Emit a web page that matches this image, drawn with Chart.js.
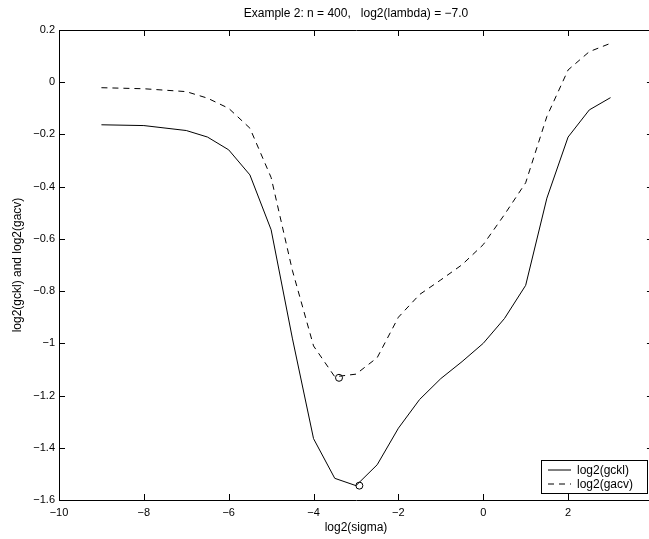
<!DOCTYPE html>
<html>
<head>
<meta charset="utf-8">
<script src="https://cdn.jsdelivr.net/npm/chart.js@4/dist/chart.umd.min.js"></script>
<style>
  html, body { margin: 0; padding: 0; background: #fff; overflow: hidden; }
  #wrap { width: 662px; height: 539px; }
</style>
</head>
<body>
<div id="wrap"><canvas id="c" width="662" height="539"></canvas></div>
<script>
// log2(sigma) grid and the two criteria curves
const sigmaLog = [-9, -8, -7, -6.5, -6, -5.5, -5, -4.5, -4, -3.5, -3, -2.5, -2, -1.5, -1, -0.5, 0, 0.5, 1, 1.5, 2, 2.5, 3];
const gckl = [-0.163, -0.166, -0.185, -0.210, -0.259, -0.355, -0.565, -0.98, -1.365, -1.517, -1.545, -1.465, -1.325, -1.215, -1.135, -1.07, -1.0, -0.905, -0.778, -0.444, -0.210, -0.106, -0.059];
const gacv = [-0.021, -0.025, -0.036, -0.061, -0.100, -0.176, -0.365, -0.72, -1.01, -1.128, -1.118, -1.055, -0.90, -0.813, -0.757, -0.699, -0.622, -0.507, -0.385, -0.131, 0.047, 0.117, 0.149];

// minima marked with 'o'
const gcklMin = [{ x: -2.92, y: -1.545 }];
const gacvMin = [{ x: -3.40, y: -1.132 }];

const xTicks = [-10, -8, -6, -4, -2, 0, 2, 4];
const yTicks = [-1.6, -1.4, -1.2, -1, -0.8, -0.6, -0.4, -0.2, 0, 0.2];

const titleText = 'Example 2: n = 400,   log2(lambda) = \u22127.0';
const FONT = '"Liberation Sans", Arial, Helvetica, sans-serif';

const toPts = (ys) => sigmaLog.map((x, i) => ({ x, y: ys[i] }));
const fmt = (v) => {
  const s = Math.abs(v) < 1e-9 ? '0' : String(Math.round(v * 10) / 10);
  return s.replace('-', '\u2212');
};

// MATLAB style box: frame, inward ticks on all sides, title, legend
const matlabBox = {
  id: 'matlabBox',
  afterDatasetsDraw(chart) {
    const { ctx, chartArea: a, scales } = chart;
    const tl = 6;
    ctx.save();
    ctx.strokeStyle = '#000';
    ctx.lineWidth = 1;
    ctx.beginPath();
    ctx.rect(a.left + 0.5, a.top + 0.5, a.right - a.left, a.bottom - a.top);
    xTicks.forEach(v => {
      const px = Math.round(scales.x.getPixelForValue(v)) + 0.5;
      ctx.moveTo(px, a.bottom); ctx.lineTo(px, a.bottom - tl);
      ctx.moveTo(px, a.top); ctx.lineTo(px, a.top + tl);
    });
    yTicks.forEach(v => {
      const py = Math.round(scales.y.getPixelForValue(v)) + 0.5;
      ctx.moveTo(a.left, py); ctx.lineTo(a.left + tl, py);
      ctx.moveTo(a.right, py); ctx.lineTo(a.right - tl, py);
    });
    ctx.stroke();

    // title
    ctx.fillStyle = '#000';
    ctx.font = '12px ' + FONT;
    ctx.textAlign = 'center';
    ctx.textBaseline = 'middle';
    ctx.fillText(titleText, (a.left + a.right) / 2, 14);

    // legend
    const bx = 541, by = 460, bw = 106, bh = 33;
    ctx.fillStyle = '#fff';
    ctx.fillRect(bx, by, bw, bh);
    ctx.strokeRect(bx + 0.5, by + 0.5, bw, bh);
    const rows = chart.data.datasets.filter(d => d.inLegend);
    rows.forEach((d, i) => {
      const cy = by + 9.5 + i * 14;
      ctx.setLineDash(d.borderDash || []);
      ctx.beginPath();
      ctx.moveTo(bx + 7, cy + 0.5);
      ctx.lineTo(bx + 30, cy + 0.5);
      ctx.stroke();
      ctx.setLineDash([]);
      ctx.fillStyle = '#000';
      ctx.font = '12px ' + FONT;
      ctx.textAlign = 'left';
      ctx.fillText(d.label, bx + 36, cy + 1);
    });
    ctx.restore();
  }
};

new Chart(document.getElementById('c'), {
  type: 'scatter',
  data: {
    datasets: [
      { label: 'log2(gckl)', data: toPts(gckl), showLine: true, inLegend: true,
        borderColor: '#000', borderWidth: 1, pointRadius: 0, tension: 0 },
      { label: 'log2(gacv)', data: toPts(gacv), showLine: true, inLegend: true,
        borderColor: '#000', borderWidth: 1, borderDash: [6, 5], pointRadius: 0, tension: 0 },
      { label: 'min gckl', data: gcklMin, pointStyle: 'circle', pointRadius: 3.5,
        borderColor: '#000', borderWidth: 1, backgroundColor: 'rgba(0,0,0,0)' },
      { label: 'min gacv', data: gacvMin, pointStyle: 'circle', pointRadius: 3.5,
        borderColor: '#000', borderWidth: 1, backgroundColor: 'rgba(0,0,0,0)' }
    ]
  },
  options: {
    responsive: false,
    animation: false,
    devicePixelRatio: 1,
    layout: { padding: { left: 0, top: 30, right: 8, bottom: 0 } },
    plugins: { legend: { display: false }, tooltip: { enabled: false } },
    scales: {
      x: {
        type: 'linear', min: -10, max: 4,
        afterBuildTicks: (s) => { s.ticks = xTicks.map(v => ({ value: v })); },
        afterFit: (s) => { s.height = 39; },
        grid: { display: false, drawTicks: false },
        border: { display: false },
        ticks: { color: '#000', padding: 6, font: { family: FONT, size: 11 }, maxRotation: 0,
          callback: (v) => fmt(v) },
        title: { display: true, text: 'log2(sigma)', color: '#000',
          font: { family: FONT, size: 12 }, padding: { top: 0, bottom: 4 } }
      },
      y: {
        type: 'linear', min: -1.6, max: 0.2,
        afterBuildTicks: (s) => { s.ticks = yTicks.map(v => ({ value: v })); },
        afterFit: (s) => { s.width = 59; },
        grid: { display: false, drawTicks: false },
        border: { display: false },
        ticks: { color: '#000', padding: 4, font: { family: FONT, size: 11 },
          callback: (v) => fmt(v) },
        title: { display: true, text: 'log2(gckl) and log2(gacv)', color: '#000',
          font: { family: FONT, size: 12 }, padding: { top: 10, bottom: 0 } }
      }
    }
  },
  plugins: [matlabBox]
});
</script>
</body>
</html>
